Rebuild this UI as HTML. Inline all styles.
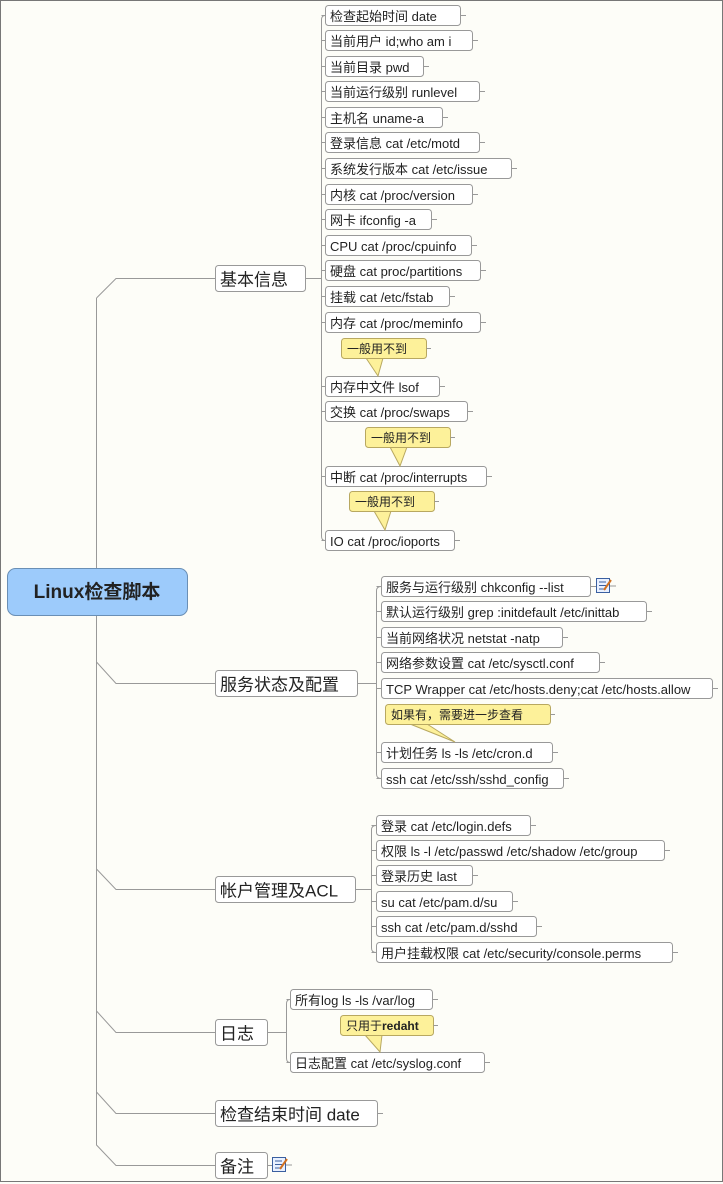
<!DOCTYPE html>
<html><head><meta charset="utf-8"><style>
html,body{margin:0;padding:0;background:#fdfdf8}
svg{display:block}
text{font-family:"Liberation Sans","Noto Sans CJK SC",sans-serif;fill:#222}
</style></head><body>
<svg width="723" height="1184" viewBox="0 0 723 1184" xmlns="http://www.w3.org/2000/svg">
<rect x="0.5" y="0.5" width="722" height="1181" fill="#fdfdf8" stroke="#777"/>
<g stroke="#999" fill="none" stroke-width="1">
<!-- main spine -->
<path d="M96.5 298 L116 278.5 H215"/>
<path d="M96.5 298 V1145 L116 1165.5 H215"/>
<path d="M96.5 662 L116 683.5 H215"/>
<path d="M96.5 869 L116 889.5 H215"/>
<path d="M96.5 1011 L116 1032.5 H215"/>
<path d="M96.5 1092 L116 1113.5 H215"/>
<!-- basic spine -->
<path d="M305 278.5 H321.5"/>
<path d="M325 15.5 Q321.5 15.5 321.5 20 V536 Q321.5 540.5 325 540.5"/>
<!-- service spine -->
<path d="M357 683.5 H376.5"/>
<path d="M381 586.5 Q376.5 586.5 376.5 591 V774 Q376.5 778.5 381 778.5"/>
<!-- account spine -->
<path d="M355 889.5 H371.5"/>
<path d="M376 825.5 Q371.5 825.5 371.5 830 V948 Q371.5 952.5 376 952.5"/>
<!-- log spine -->
<path d="M267 1032.5 H286.5"/>
<path d="M290 999.5 Q286.5 999.5 286.5 1004 V1058 Q286.5 1062.5 290 1062.5"/>
</g>
<!-- root -->
<rect x="7.5" y="568.5" width="180" height="47" rx="8" fill="#9dcbfb" stroke="#6a8fb5"/>
<text x="97" y="598" font-size="19" font-weight="bold" text-anchor="middle" fill="#333">Linux检查脚本</text>

<g id="leaves" font-size="13">
</g>
</svg>
<script>
const S="http://www.w3.org/2000/svg";const svg=document.querySelector('svg');
function el(t,a,txt){const e=document.createElementNS(S,t);for(const k in a)e.setAttribute(k,a[k]);if(txt!==undefined)e.textContent=txt;svg.appendChild(e);return e;}
function box(x,y,w,h,t,fs,spine){
 el('rect',{x:x+.5,y:y+.5,width:w,height:h,rx:3,fill:'#fff',stroke:'#999'});
 el('line',{x1:x+w+.5,y1:y+h/2+.5,x2:x+w+6,y2:y+h/2+.5,stroke:'#999'});
 if(spine!==undefined)el('line',{x1:spine,y1:y+h/2+.5,x2:x+.5,y2:y+h/2+.5,stroke:'#999'});
 el('text',{x:x+5,y:y+h/2+fs*0.37+1,'font-size':fs},t);
}
function note(x,y,w,t,tx,ty,bold){
 el('path',{d:`M${x+25} ${y+20} L${tx} ${ty} L${x+42} ${y+20}`,fill:'#fdf19a',stroke:'#b8a860'});
 el('rect',{x:x+.5,y:y+.5,width:w,height:20,rx:3,fill:'#fdf19a',stroke:'#b8a860'});
 el('line',{x1:x+w+.5,y1:y+10.5,x2:x+w+5,y2:y+10.5,stroke:'#999'});
 const e=el('text',{x:x+6,y:y+15,'font-size':12});
 e.innerHTML=t;
}
function icon(x,y){
 el('rect',{x:x+.5,y:y+.5,width:13,height:14,fill:'#e8f0ff',stroke:'#3a5fa0'});
 for(let i=0;i<3;i++)el('line',{x1:x+3,y1:y+4+i*3.5,x2:x+10,y2:y+4+i*3.5,stroke:'#3a5fa0'});
 el('line',{x1:x+8,y1:y+12,x2:x+15,y2:y+2,stroke:'#d07020','stroke-width':2});
 el('line',{x1:x+14,y1:y+8,x2:x+20,y2:y+8,stroke:'#999'});
}
// main nodes
box(215,265,90,26,'基本信息',17);
box(215,670,142,26,'服务状态及配置',17);
box(215,876,140,26,'帐户管理及ACL',17);
box(215,1019,52,26,'日志',17);
box(215,1100,162,26,'检查结束时间 date',17);
box(215,1152,52,26,'备注',17);icon(272,1157);
const B=[['检查起始时间 date',5,135],['当前用户 id;who am i',30,147],['当前目录 pwd',56,98],['当前运行级别 runlevel',81,154],['主机名 uname-a',107,117],['登录信息 cat /etc/motd',132,154],['系统发行版本 cat /etc/issue',158,186],['内核 cat /proc/version',184,147],['网卡 ifconfig -a',209,106],['CPU cat /proc/cpuinfo',235,146],['硬盘 cat proc/partitions',260,155],['挂载 cat /etc/fstab',286,124],['内存 cat /proc/meminfo',312,155],['内存中文件 lsof',376,114],['交换 cat /proc/swaps',401,142],['中断 cat /proc/interrupts',466,161],['IO cat /proc/ioports',530,129]];
B.forEach(b=>box(325,b[1],b[2],20,b[0],13,321.5));
note(341,338,85,'一般用不到',378,376);
note(365,427,85,'一般用不到',400,466);
note(349,491,85,'一般用不到',385,530);
const Sv=[['服务与运行级别 chkconfig --list',576,209],['默认运行级别 grep :initdefault /etc/inittab',601,265],['当前网络状况 netstat -natp',627,181],['网络参数设置 cat /etc/sysctl.conf',652,218],['TCP Wrapper cat /etc/hosts.deny;cat /etc/hosts.allow',678,331],['计划任务 ls -ls /etc/cron.d',742,171],['ssh cat /etc/ssh/sshd_config',768,182]];
Sv.forEach(b=>box(381,b[1],b[2],20,b[0],13,376.5));
icon(596,578);
note(385,704,165,'如果有，需要进一步查看',455,742);
const A=[['登录 cat /etc/login.defs',815,154],['权限 ls -l /etc/passwd /etc/shadow /etc/group',840,288],['登录历史 last',865,96],['su cat /etc/pam.d/su',891,136],['ssh cat /etc/pam.d/sshd',916,160],['用户挂载权限 cat /etc/security/console.perms',942,296]];
A.forEach(b=>box(376,b[1],b[2],20,b[0],13,371.5));
box(290,989,142,20,'所有log ls -ls /var/log',13,286.5);
box(290,1052,194,20,'日志配置 cat /etc/syslog.conf',13,286.5);
note(340,1015,93,'只用于<tspan font-weight="bold">redaht</tspan>',380,1052);
</script>
</body></html>
